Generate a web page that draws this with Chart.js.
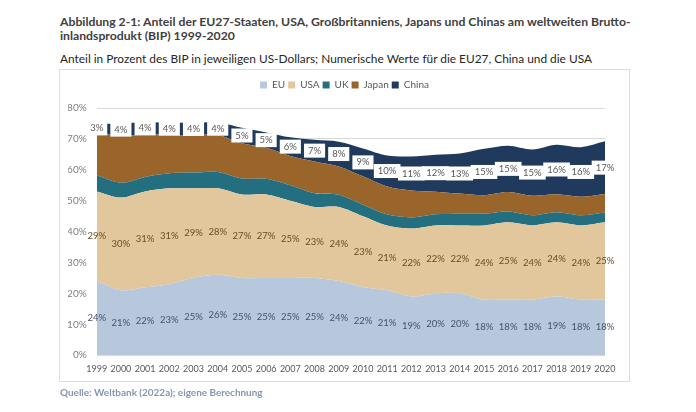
<!DOCTYPE html>
<html>
<head>
<meta charset="utf-8">
<script src="https://cdn.jsdelivr.net/npm/chart.js@4.4.0/dist/chart.umd.min.js"></script>
<style>
  body { margin: 0; background: #fff; font-family: Lato, sans-serif; }
  #page { position: relative; width: 696px; height: 412px; overflow: hidden; }
  .txt { position: absolute; left: 60px; white-space: nowrap; line-height: 14px; }
  #title { top: 15px; font-weight: bold; color: #404040; font-size: 12px; }
  #subtitle { top: 52px; color: #262626; font-size: 12px; }
  #source { top: 385px; font-weight: bold; color: #8497b0; font-size: 10px; }
  #card { position: absolute; left: 59px; top: 69px; width: 571px; height: 313px;
          box-sizing: border-box; border: 1px solid #dedede; }
  #chart { position: absolute; left: 59px; top: 69px; }
</style>
</head>
<body>
<div id="page">
  <div id="title" class="txt"><span data-w="571">Abbildung 2-1: Anteil der EU27-Staaten, USA, Großbritanniens, Japans und Chinas am weltweiten Brutto-</span><br>inlandsprodukt (BIP) 1999-2020</div>
  <div id="subtitle" class="txt"><span data-w="533">Anteil in Prozent des BIP in jeweiligen US-Dollars; Numerische Werte für die EU27, China und die USA</span></div>
  <div id="card"></div>
  <canvas id="chart" width="571" height="321"></canvas>
  <div id="source" class="txt"><span data-w="203">Quelle: Weltbank (2022a); eigene Berechnung</span></div>
</div>
<script>
// shares of world GDP in percent
const years = ["1999", "2000", "2001", "2002", "2003", "2004", "2005", "2006", "2007", "2008", "2009",
  "2010", "2011", "2012", "2013", "2014", "2015", "2016", "2017", "2018", "2019", "2020"];
const eu = [24, 21, 22, 23, 25, 26, 25, 25, 25, 25, 24, 22, 21, 19, 20, 20, 18, 18, 18, 19, 18, 18];
const usa = [29, 30, 31, 31, 29, 28, 27, 27, 25, 23, 24, 23, 21, 22, 22, 22, 24, 25, 24, 24, 24, 25];
const uk = [5.2, 4.8, 4.7, 4.9, 5.1, 5.3, 5.2, 5.1, 5.0, 4.4, 3.9, 3.7, 3.6, 3.6, 3.6, 3.8, 3.8, 3.5, 3.3, 3.3, 3.3, 3.2];
const japan = [13.7, 15.2, 13.7, 12.4, 12.1, 12.0, 11.4, 10.0, 9.5, 10.3, 9.2, 9.2, 9.0, 8.7, 7.3, 6.5, 6.0, 6.3, 6.3, 5.8, 6.0, 6.0];
const china = [3, 4, 4, 4, 4, 4, 5, 5, 6, 7, 8, 9, 10, 11, 12, 13, 15, 15, 15, 16, 16, 17];
const yTicks = [0, 10, 20, 30, 40, 50, 60, 70, 80];

// fit the heading lines to their width in the picture
document.querySelectorAll("span[data-w]").forEach((s) => {
  const box = s.parentNode;
  const size = parseFloat(getComputedStyle(box).fontSize);
  box.style.fontSize = (size * s.dataset.w / s.getBoundingClientRect().width) + "px";
});

const font = "Lato, sans-serif";

// numbers for EU, USA and China, centred in their band
const valueLabels = {
  id: "valueLabels",
  afterDatasetsDraw(chart) {
    const ctx = chart.ctx;
    const y = chart.scales.y;
    const x = chart.scales.x;
    const below = years.map(() => 0);
    chart.data.datasets.forEach((ds) => {
      ds.data.forEach((v, i) => {
        if (ds.showValues) {
          const px = x.getPixelForValue(i);
          const py = y.getPixelForValue(below[i] + v / 2);
          const txt = Math.round(v) + "%";
          ctx.save();
          ctx.font = "9.5px " + font;
          ctx.textAlign = "center";
          ctx.textBaseline = "middle";
          if (ds.boxed) {
            const w = ctx.measureText(txt).width + 8;
            ctx.fillStyle = "#fff";
            ctx.fillRect(px - w / 2, py - 7, w, 14);
          }
          ctx.fillStyle = ds.valueColor;
          ctx.fillText(txt, px, py);
          ctx.restore();
        }
        below[i] += v;
      });
    });
  },
};

// more room between legend and plot, legend centred over the plot
const legendGap = {
  id: "legendGap",
  beforeInit(chart) {
    const fit = chart.legend.fit;
    chart.legend.fit = function () {
      fit.bind(chart.legend)();
      this.height += 8;
    };
  },
  afterLayout(chart) {
    chart.legend.left += 8;
    chart.legend.right += 8;
  },
};

new Chart(document.getElementById("chart"), {
  type: "line",
  data: {
    labels: years,
    datasets: [
      { label: "EU", data: eu, backgroundColor: "#b7c8dc", fill: "origin", showValues: true, valueColor: "#44546a" },
      { label: "USA", data: usa, backgroundColor: "#e2c69c", fill: "-1", showValues: true, valueColor: "#6b4e1f" },
      { label: "UK", data: uk, backgroundColor: "#236f80", fill: "-1" },
      { label: "Japan", data: japan, backgroundColor: "#9a652a", fill: "-1" },
      { label: "China", data: china, backgroundColor: "#1f3a5c", fill: "-1", showValues: true, boxed: true, valueColor: "#595959" },
    ],
  },
  options: {
    responsive: false,
    animation: false,
    layout: { padding: { left: 9, right: 25, top: 8, bottom: 8 } },
    elements: {
      point: { radius: 0 },
      line: { tension: 0.3, borderWidth: 0 },
    },
    plugins: {
      legend: {
        position: "top",
        labels: { boxWidth: 7, boxHeight: 7, padding: 3, color: "#595959", font: { size: 10, family: font } },
      },
      tooltip: { enabled: false },
    },
    scales: {
      x: {
        offset: false,
        grid: { display: false, drawTicks: false },
        border: { display: false },
        ticks: { autoSkip: false, maxRotation: 0, padding: 8, color: "#595959", font: { size: 9, family: font } },
      },
      y: {
        stacked: true,
        min: 0,
        max: 80,
        afterBuildTicks: (s) => { s.ticks = yTicks.map((v) => ({ value: v })); },
        afterFit: (s) => { s.width = 28.7; },
        grid: { color: "#d9d9d9", drawTicks: false },
        border: { display: false },
        ticks: { padding: 10, color: "#7f7f7f", font: { size: 10, family: font }, callback: (v) => v + "%" },
      },
    },
  },
  plugins: [valueLabels, legendGap],
});
</script>
</body>
</html>
